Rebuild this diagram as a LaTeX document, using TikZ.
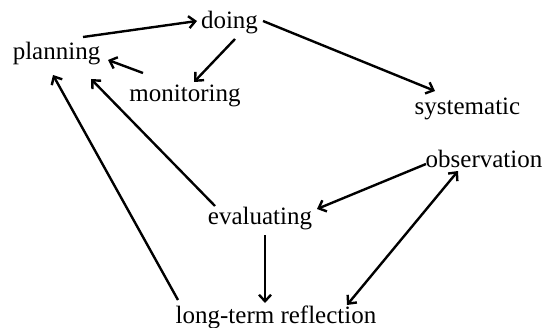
\documentclass[tikz,border=0pt]{standalone}
\usepackage{fontspec}
\setmainfont{Liberation Serif}
\usetikzlibrary{arrows.meta}
\begin{document}
\begin{tikzpicture}[x=1pt,y=1pt,
  lbl/.style={anchor=base,inner sep=0pt,font=\fontsize{25}{29}\selectfont},
  tip/.tip={Straight Barb[length=6.5pt,width=12pt,line width=2.4pt]},
  conn/.style={line width=2.4pt,-tip},
  bconn/.style={line width=2.4pt,tip-tip}]
\useasboundingbox (0,0) rectangle (543,327);
\node[lbl] (doing) at (229.5,298) {doing};
\node[lbl] (plan) at (56.5,267) {planning};
\node[lbl] (mon) at (185,225) {monitoring};
\node[lbl] (sys) at (467.5,212) {systematic};
\node[lbl] (obs) at (484,160) {observation};
\node[lbl] (eval) at (260,103) {evaluating};
\node[lbl] (lt) at (276,4) {long-term reflection};
\draw[conn] ([shift={(26.5,23)}]plan.base) -- ([shift={(-32.5,8)}]doing.base);
\draw[conn] ([shift={(33.5,8)}]doing.base) -- ([shift={(-32.5,24)}]sys.base);
\draw[conn] ([shift={(5.5,-10)}]doing.base) -- ([shift={(9,20)}]mon.base);
\draw[conn] ([shift={(-42,29)}]mon.base) -- ([shift={(51.5,0)}]plan.base);
\draw[conn] ([shift={(-45,18)}]eval.base) -- ([shift={(34.5,-19)}]plan.base);
\draw[conn] ([shift={(-98,23)}]lt.base) -- ([shift={(-3.5,-15)}]plan.base);
\draw[conn] ([shift={(-58,3)}]obs.base) -- ([shift={(57,15)}]eval.base);
\draw[conn] ([shift={(5,-11)}]eval.base) -- ([shift={(-11,20)}]lt.base);
\draw[bconn] ([shift={(-26,-4)}]obs.base) -- ([shift={(71,18)}]lt.base);
\end{tikzpicture}
\end{document}
